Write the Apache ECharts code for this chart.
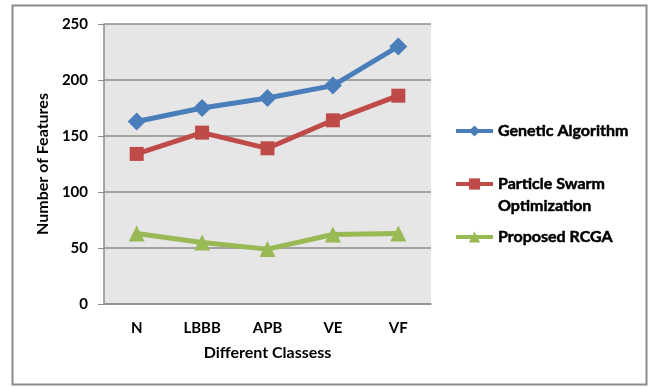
<!DOCTYPE html>
<html>
<head>
<meta charset="utf-8">
<script src="https://cdn.jsdelivr.net/npm/echarts@6/dist/echarts.min.js"></script>
<style>
  html, body { margin: 0; padding: 0; background: #fff; }
  #chart { width: 651px; height: 387px; }
</style>
</head>
<body>
<div id="chart"></div>
<script>
// data
const classes = ['N', 'LBBB', 'APB', 'VE', 'VF']
const gaValues = [163, 175, 184, 195, 230]
const psoValues = [134, 153, 139, 164, 186]
const rcgaValues = [63, 55, 49, 62, 63]
const yTicks = [0, 50, 100, 150, 200, 250]

const font = 'Lato, "Liberation Sans", sans-serif'
const txt = { color: '#000', fontFamily: font, fontWeight: 'bold', fontSize: 15 }
// legend text came out thin, so thicken it with a stroke
const legendTxt = {
  color: '#000', fontFamily: font, fontWeight: 'bold', fontSize: 16, lineHeight: 22,
  textBorderColor: '#000', textBorderWidth: 0.5
}

const chart = echarts.init(document.getElementById('chart'))

const legendBase = {
  left: 449,
  itemWidth: 37,
  itemHeight: 14,
  textStyle: legendTxt,
  lineStyle: { width: 4 },
  selectedMode: false
}

chart.setOption({
  animation: false,
  backgroundColor: '#fff',
  graphic: [{
    type: 'rect',
    shape: { x: 12.5, y: 5.5, width: 634, height: 379 },
    style: { fill: 'none', stroke: '#8c8c8c', lineWidth: 2 }
  }],
  legend: [
    { ...legendBase, top: 115, data: ['Genetic Algorithm'] },
    {
      ...legendBase, top: 146,
      data: ['Particle Swarm\nOptimization'],
      // blank first line so the icon sits beside the first text line
      formatter: name => ' \n' + name
    },
    { ...legendBase, top: 221, data: ['Proposed RCGA'] }
  ],
  grid: {
    left: 104, right: 220, top: 24, bottom: 83,
    show: true, backgroundColor: '#e6e6e6', borderWidth: 0
  },
  xAxis: {
    type: 'category',
    data: classes,
    boundaryGap: true,
    name: 'Different Classess',
    nameLocation: 'middle',
    nameGap: 41,
    nameTextStyle: { ...txt, fontSize: 16 },
    axisLine: { lineStyle: { color: '#8c8c8c', width: 1.5 } },
    axisTick: { show: false },
    axisLabel: { ...txt, margin: 17 }
  },
  yAxis: {
    type: 'value',
    min: yTicks[0],
    max: yTicks[yTicks.length - 1],
    interval: 50,
    name: 'Number of Features',
    nameLocation: 'middle',
    nameGap: 50,
    nameTextStyle: { ...txt, fontSize: 16 },
    axisLine: { show: true, lineStyle: { color: '#8c8c8c', width: 1.5 } },
    axisTick: { show: true, length: 6, lineStyle: { color: '#8c8c8c' } },
    splitLine: { lineStyle: { color: '#8c8c8c', width: 1.5 } },
    axisLabel: { ...txt, margin: 16 }
  },
  series: [
    {
      name: 'Genetic Algorithm', type: 'line', data: gaValues,
      symbol: 'diamond', symbolSize: 18,
      lineStyle: { color: '#4a7ebb', width: 5 },
      itemStyle: { color: '#4a7ebb' }
    },
    {
      name: 'Particle Swarm\nOptimization', type: 'line', data: psoValues,
      symbol: 'rect', symbolSize: 14,
      lineStyle: { color: '#be4b48', width: 5 },
      itemStyle: { color: '#be4b48' }
    },
    {
      name: 'Proposed RCGA', type: 'line', data: rcgaValues,
      symbol: 'triangle', symbolSize: 16,
      lineStyle: { color: '#98b954', width: 5 },
      itemStyle: { color: '#98b954' }
    }
  ]
})
</script>
</body>
</html>
